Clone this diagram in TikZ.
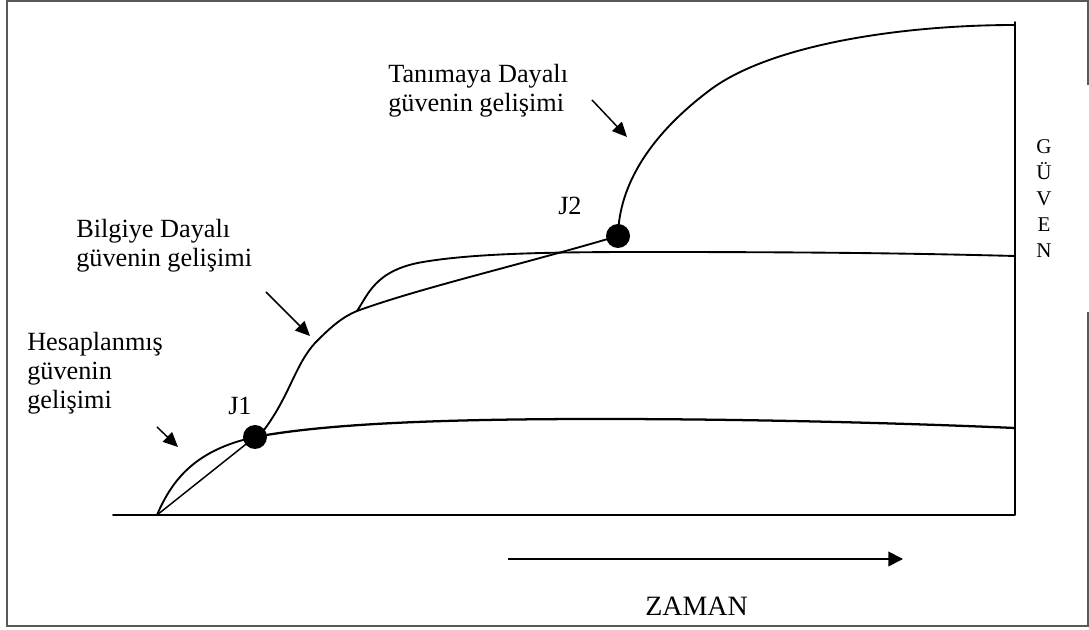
\documentclass[tikz,border=0pt]{standalone}
\usepackage{fontspec}
\setmainfont{Liberation Serif}
\usetikzlibrary{arrows.meta}
\begin{document}
\begin{tikzpicture}[x=0.75pt,y=-0.75pt,
  curve/.style={line width=1.4pt, line join=round, line cap=round},
  pointer/.style={line width=1.1pt,-{Triangle[length=11pt,width=10pt]}},
  lbl/.style={font=\fontsize{19.7pt}{21.75pt}\selectfont, align=left, inner sep=0pt},
  jlbl/.style={font=\fontsize{19.7pt}{21.75pt}\selectfont, inner sep=0pt, anchor=base west},
  dot/.style={circle, fill=black, minimum size=18pt, inner sep=0pt},
  frame/.style={draw=black!65, line width=1.6pt}]
\useasboundingbox (0,0) rectangle (1089,630);
% outer frame
\draw[frame] (1088,85) -- (1088,1) -- (7,1) -- (7,626) -- (1088,626) -- (1088,312);
% key points
\coordinate (BL) at (113,515);
\coordinate (BR) at (1015,515);
\coordinate (TR) at (1015,22);
\coordinate (O) at (157,515);
\coordinate (c1) at (255,437);
\coordinate (c2) at (618,236);
\coordinate (S) at (357,311);
\coordinate (R1) at (1015,428);
\coordinate (R2) at (1015,256);
% axes
\draw[curve] (BL) -- (BR) -- (TR);
% Hesaplanmis guven
\draw[curve] (O) .. controls (172,480) and (195,450) .. (c1);
\draw[curve, line width=1.1pt] (O) -- (c1);
\draw[curve, line width=1.7pt] (c1) .. controls (330,423) and (450,419) .. (600,419) .. controls (750,419) and (900,423) .. (R1);
% Bilgiye dayali guven
\draw[curve] (264,430) .. controls (290,395) and (295,365) .. (315,343) .. controls (328,330) and (340,318) .. (S);
\draw[curve] (S) .. controls (368,295) and (375,270) .. (423,262) .. controls (470,254) and (540,252) .. (640,252) .. controls (800,252) and (900,253) .. (R2);
\draw[curve] (S) .. controls (420,288) and (520,265) .. (c2);
% Tanimaya dayali guven
\draw[curve] (c2) .. controls (619,185) and (650,135) .. (710,90) .. controls (770,45) and (900,25) .. (1015,25);
% junction dots
\node[dot] (J1) at (c1) {};
\node[dot] (J2) at (c2) {};
\node[jlbl] (J1l) at (228,415) {J1};
\node[jlbl] (J2l) at (558,215) {J2};
% labels
\node[lbl, anchor=north west] (tan) at (388,64) {Tanımaya Dayalı\\güvenin gelişimi};
\node[lbl, anchor=north west] (bil) at (76,219) {Bilgiye Dayalı\\güvenin gelişimi};
\node[lbl, anchor=north west] (hes) at (27,332) {Hesaplanmış\\güvenin\\gelişimi};
% pointer arrows
\coordinate (p1s) at (592,100); \coordinate (p1e) at (627,137);
\coordinate (p2s) at (266,292); \coordinate (p2e) at (310,336);
\coordinate (p3s) at (157,427); \coordinate (p3e) at (178,447);
\draw[pointer] (p1s) -- (p1e);
\draw[pointer] (p2s) -- (p2e);
\draw[pointer] (p3s) -- (p3e);
% axis labels
\node[font=\fontsize{15.75pt}{19.5pt}\selectfont, align=center, inner sep=0pt, anchor=north] (guven) at (1044,139) {G\\Ü\\V\\E\\N};
\coordinate (zs) at (508,559);
\coordinate (ze) at (903,559);
\draw[line width=1.3pt,-{Triangle[length=11pt,width=11pt]}] (zs) -- (ze);
\node[font=\fontsize{21pt}{24pt}\selectfont, inner sep=0pt, anchor=base west] (zaman) at (645,615) {ZAMAN};
\end{tikzpicture}
\end{document}
